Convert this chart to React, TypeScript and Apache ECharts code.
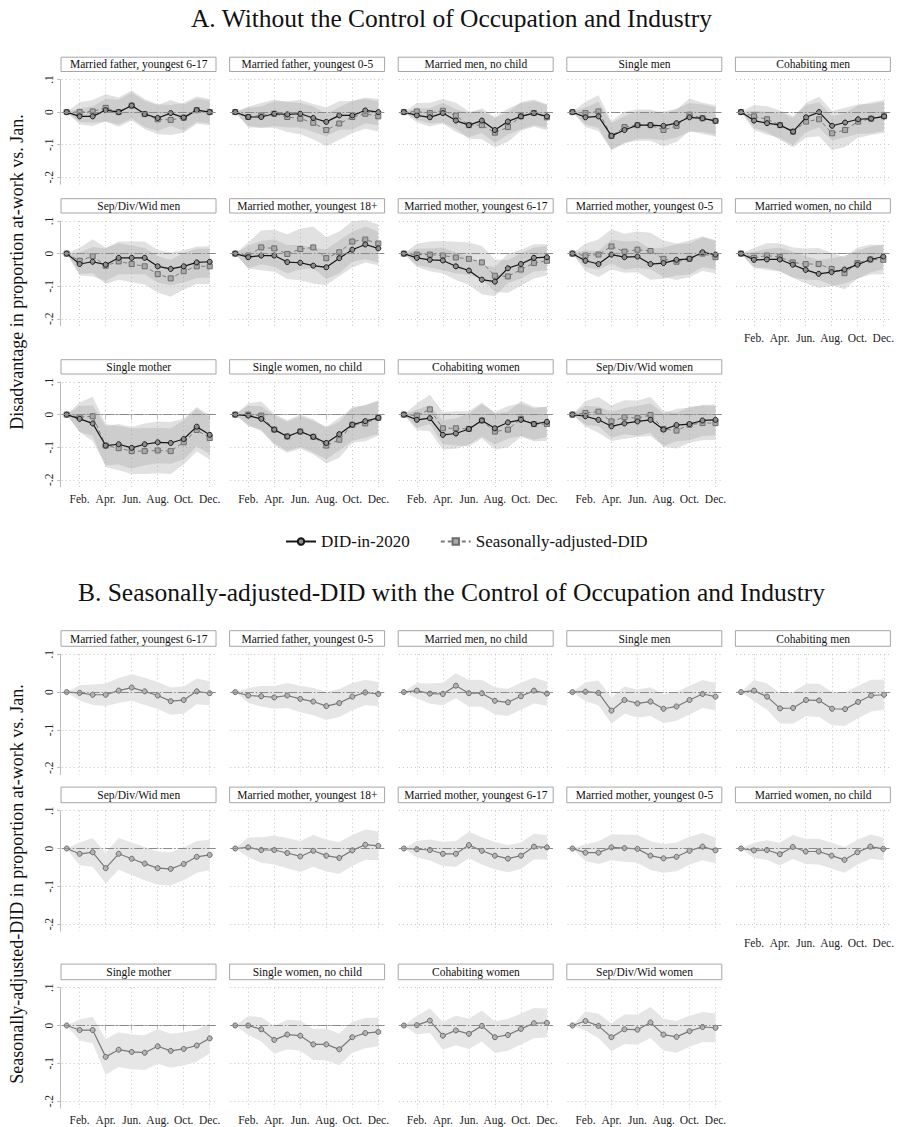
import React, { useEffect, useRef } from "react";
import * as echarts from "echarts";

// ---------- data ----------
const MONTHS = [1, 2, 3, 4, 5, 6, 7, 8, 9, 10, 11, 12];
const TICK_MONTHS = [2, 4, 6, 8, 10, 12];
const TICK_LABELS = ["Feb.", "Apr.", "Jun.", "Aug.", "Oct.", "Dec."];
const Y_TICKS = [-0.2, -0.1, 0, 0.1];
const Y_TICK_LABELS = ["-.2", "-.1", "0", ".1"];

const GROUPS = [
  "Married father, youngest 6-17",
  "Married father, youngest 0-5",
  "Married men, no child",
  "Single men",
  "Cohabiting men",
  "Sep/Div/Wid men",
  "Married mother, youngest 18+",
  "Married mother, youngest 6-17",
  "Married mother, youngest 0-5",
  "Married women, no child",
  "Single mother",
  "Single women, no child",
  "Cohabiting women",
  "Sep/Div/Wid women",
];

// Panel A: DID-in-2020 estimates (one row per group, Jan..Dec)
const DID_A = [
  [0, -0.013, -0.013, 0.006, 0, 0.02, -0.006, -0.018, -0.003, -0.017, 0.006, 0],
  [0, -0.015, -0.015, -0.005, -0.007, -0.005, -0.018, -0.03, -0.01, -0.01, 0.005, 0],
  [0, -0.01, -0.016, -0.003, -0.026, -0.04, -0.026, -0.055, -0.029, -0.013, -0.003, -0.013],
  [0, -0.016, -0.013, -0.073, -0.055, -0.04, -0.04, -0.042, -0.034, -0.016, -0.019, -0.027],
  [0, -0.026, -0.034, -0.04, -0.06, -0.016, 0, -0.042, -0.032, -0.022, -0.02, -0.013],
  [0, -0.032, -0.025, -0.034, -0.013, -0.013, -0.013, -0.039, -0.047, -0.039, -0.027, -0.025],
  [0, -0.011, -0.006, -0.006, -0.026, -0.028, -0.037, -0.042, -0.014, 0.012, 0.028, 0.016],
  [0, -0.013, -0.019, -0.021, -0.039, -0.052, -0.08, -0.086, -0.045, -0.032, -0.013, -0.011],
  [0, -0.022, -0.032, -0.003, -0.011, -0.009, -0.032, -0.029, -0.019, -0.016, 0.004, -0.003],
  [0, -0.019, -0.018, -0.018, -0.034, -0.05, -0.062, -0.057, -0.049, -0.034, -0.018, -0.009],
  [0, -0.013, -0.027, -0.095, -0.091, -0.102, -0.091, -0.085, -0.087, -0.075, -0.037, -0.062],
  [0, -0.003, -0.013, -0.046, -0.067, -0.052, -0.068, -0.087, -0.06, -0.031, -0.02, -0.01],
  [0, -0.016, -0.011, -0.062, -0.058, -0.044, -0.018, -0.042, -0.024, -0.016, -0.029, -0.022],
  [0, -0.005, -0.016, -0.036, -0.027, -0.021, -0.016, -0.046, -0.032, -0.029, -0.018, -0.016],
];

// Panel A: Seasonally-adjusted-DID estimates
const SA_A = [
  [0, 0, 0.002, 0.013, 0, 0.02, -0.006, -0.022, -0.024, -0.017, 0.006, 0],
  [0, -0.015, -0.01, -0.005, -0.015, -0.02, -0.033, -0.055, -0.035, -0.015, -0.005, -0.013],
  [0, 0.002, -0.003, 0.004, -0.011, -0.04, -0.04, -0.063, -0.046, -0.013, -0.003, -0.016],
  [0, -0.003, 0.002, -0.073, -0.046, -0.04, -0.04, -0.055, -0.042, -0.008, -0.019, -0.027],
  [0, -0.013, -0.022, -0.04, -0.06, -0.029, -0.022, -0.065, -0.055, -0.029, -0.02, -0.013],
  [0, -0.022, -0.008, -0.037, -0.024, -0.032, -0.039, -0.063, -0.076, -0.054, -0.039, -0.039],
  [0, -0.006, 0.019, 0.016, -0.001, 0.014, 0.019, -0.014, 0.004, 0.037, 0.043, 0.031],
  [0, -0.003, -0.003, -0.006, -0.012, -0.016, -0.027, -0.068, -0.07, -0.049, -0.029, -0.022],
  [0, -0.006, -0.003, 0.022, 0.006, 0.012, 0.008, -0.016, -0.025, -0.016, 0, -0.011],
  [0, -0.013, -0.006, -0.011, -0.027, -0.032, -0.032, -0.047, -0.06, -0.029, -0.018, -0.019],
  [0, -0.008, -0.005, -0.095, -0.103, -0.112, -0.112, -0.11, -0.112, -0.085, -0.047, -0.072],
  [0, 0, -0.003, -0.046, -0.067, -0.052, -0.068, -0.095, -0.077, -0.031, -0.027, -0.01],
  [0, -0.003, 0.016, -0.042, -0.042, -0.044, -0.018, -0.052, -0.046, -0.013, -0.029, -0.029],
  [0, 0.005, 0.009, -0.021, -0.008, -0.011, -0.001, -0.044, -0.049, -0.031, -0.026, -0.026],
];

// Panel A: half-width of the confidence band, DID-in-2020
const DID_A_CI = [
  [0, 0.025, 0.03, 0.035, 0.038, 0.04, 0.04, 0.04, 0.04, 0.04, 0.036, 0.034],
  [0, 0.028, 0.033, 0.038, 0.04, 0.042, 0.043, 0.044, 0.044, 0.043, 0.04, 0.04],
  [0, 0.022, 0.028, 0.032, 0.035, 0.037, 0.038, 0.04, 0.04, 0.04, 0.037, 0.035],
  [0, 0.03, 0.045, 0.04, 0.042, 0.042, 0.042, 0.044, 0.044, 0.044, 0.042, 0.042],
  [0, 0.03, 0.035, 0.04, 0.042, 0.045, 0.047, 0.045, 0.045, 0.045, 0.045, 0.045],
  [0, 0.035, 0.045, 0.05, 0.05, 0.05, 0.05, 0.05, 0.05, 0.05, 0.048, 0.048],
  [0, 0.035, 0.045, 0.05, 0.052, 0.054, 0.055, 0.055, 0.055, 0.055, 0.055, 0.052],
  [0, 0.028, 0.035, 0.04, 0.042, 0.044, 0.045, 0.045, 0.045, 0.044, 0.042, 0.04],
  [0, 0.032, 0.04, 0.046, 0.048, 0.048, 0.048, 0.048, 0.048, 0.048, 0.046, 0.045],
  [0, 0.025, 0.032, 0.037, 0.04, 0.042, 0.043, 0.043, 0.043, 0.043, 0.04, 0.038],
  [0, 0.04, 0.055, 0.06, 0.062, 0.064, 0.064, 0.064, 0.064, 0.063, 0.06, 0.06],
  [0, 0.03, 0.038, 0.043, 0.045, 0.047, 0.048, 0.05, 0.05, 0.05, 0.05, 0.05],
  [0, 0.032, 0.04, 0.045, 0.047, 0.048, 0.05, 0.05, 0.05, 0.05, 0.048, 0.047],
  [0, 0.032, 0.04, 0.045, 0.047, 0.048, 0.05, 0.05, 0.05, 0.05, 0.048, 0.047],
];

// Panel A: half-width of the confidence band, Seasonally-adjusted-DID
const SA_A_CI = [
  [0, 0.03, 0.035, 0.042, 0.045, 0.046, 0.046, 0.046, 0.046, 0.046, 0.042, 0.04],
  [0, 0.032, 0.038, 0.043, 0.046, 0.048, 0.05, 0.05, 0.05, 0.05, 0.046, 0.046],
  [0, 0.026, 0.032, 0.036, 0.04, 0.042, 0.043, 0.045, 0.045, 0.044, 0.042, 0.04],
  [0, 0.035, 0.05, 0.045, 0.047, 0.048, 0.048, 0.05, 0.05, 0.05, 0.048, 0.048],
  [0, 0.035, 0.04, 0.045, 0.048, 0.05, 0.052, 0.052, 0.052, 0.05, 0.05, 0.05],
  [0, 0.04, 0.052, 0.056, 0.056, 0.056, 0.056, 0.056, 0.056, 0.056, 0.054, 0.054],
  [0, 0.04, 0.052, 0.057, 0.06, 0.062, 0.064, 0.064, 0.064, 0.062, 0.06, 0.058],
  [0, 0.033, 0.04, 0.045, 0.048, 0.05, 0.05, 0.05, 0.05, 0.05, 0.047, 0.045],
  [0, 0.037, 0.046, 0.053, 0.055, 0.056, 0.056, 0.056, 0.056, 0.056, 0.053, 0.05],
  [0, 0.03, 0.038, 0.043, 0.046, 0.048, 0.049, 0.049, 0.049, 0.048, 0.046, 0.044],
  [0, 0.045, 0.06, 0.066, 0.068, 0.07, 0.07, 0.07, 0.07, 0.068, 0.066, 0.065],
  [0, 0.035, 0.043, 0.048, 0.05, 0.052, 0.054, 0.055, 0.055, 0.055, 0.055, 0.055],
  [0, 0.037, 0.045, 0.05, 0.052, 0.054, 0.055, 0.055, 0.055, 0.055, 0.053, 0.052],
  [0, 0.037, 0.045, 0.05, 0.052, 0.054, 0.055, 0.055, 0.055, 0.055, 0.053, 0.052],
];

// Panel B: Seasonally-adjusted-DID with occupation & industry controls
const SA_B = [
  [0, -0.002, -0.007, -0.007, 0.004, 0.012, 0.002, -0.009, -0.024, -0.021, 0.002, -0.003],
  [0, -0.009, -0.011, -0.014, -0.009, -0.018, -0.025, -0.037, -0.029, -0.012, -0.001, -0.005],
  [0, 0.004, -0.004, -0.005, 0.017, -0.003, -0.003, -0.023, -0.027, -0.011, 0.004, -0.004],
  [0, 0.001, -0.002, -0.049, -0.021, -0.03, -0.025, -0.044, -0.038, -0.021, -0.005, -0.012],
  [0, 0.004, -0.012, -0.043, -0.042, -0.021, -0.022, -0.044, -0.045, -0.026, -0.009, -0.007],
  [0, -0.014, -0.01, -0.052, -0.014, -0.027, -0.04, -0.052, -0.054, -0.041, -0.022, -0.017],
  [0, 0.003, -0.004, -0.004, -0.012, -0.021, -0.006, -0.019, -0.025, -0.005, 0.01, 0.007],
  [0, -0.002, -0.004, -0.014, -0.014, 0.009, -0.006, -0.019, -0.027, -0.019, 0.005, 0.003],
  [0, -0.011, -0.011, 0.003, 0.001, -0.001, -0.019, -0.026, -0.022, -0.006, 0.005, -0.005],
  [0, -0.005, -0.004, -0.015, 0.004, -0.008, -0.008, -0.019, -0.03, -0.01, 0.005, -0.001],
  [0, -0.012, -0.012, -0.083, -0.064, -0.07, -0.072, -0.055, -0.067, -0.062, -0.053, -0.034],
  [0, 0, -0.01, -0.038, -0.024, -0.027, -0.05, -0.05, -0.063, -0.031, -0.02, -0.017],
  [0, 0.001, 0.013, -0.027, -0.013, -0.022, -0.001, -0.031, -0.025, -0.009, 0.006, 0.007],
  [0, 0.012, -0.001, -0.031, -0.01, -0.011, 0.008, -0.024, -0.03, -0.015, -0.004, -0.006],
];

// Panel B: half-width of the confidence band
const SA_B_CI = [
  [0, 0.02, 0.027, 0.03, 0.033, 0.035, 0.036, 0.036, 0.036, 0.036, 0.034, 0.032],
  [0, 0.02, 0.027, 0.03, 0.033, 0.035, 0.036, 0.037, 0.037, 0.036, 0.034, 0.032],
  [0, 0.02, 0.027, 0.03, 0.033, 0.035, 0.036, 0.036, 0.036, 0.036, 0.034, 0.032],
  [0, 0.025, 0.033, 0.035, 0.036, 0.037, 0.038, 0.038, 0.038, 0.038, 0.037, 0.036],
  [0, 0.028, 0.035, 0.04, 0.042, 0.043, 0.044, 0.044, 0.044, 0.043, 0.042, 0.04],
  [0, 0.03, 0.038, 0.04, 0.042, 0.043, 0.044, 0.044, 0.044, 0.043, 0.042, 0.04],
  [0, 0.026, 0.034, 0.038, 0.04, 0.041, 0.042, 0.042, 0.042, 0.041, 0.04, 0.038],
  [0, 0.022, 0.028, 0.032, 0.034, 0.035, 0.036, 0.036, 0.036, 0.035, 0.034, 0.032],
  [0, 0.022, 0.03, 0.034, 0.036, 0.037, 0.038, 0.038, 0.038, 0.037, 0.036, 0.034],
  [0, 0.02, 0.026, 0.03, 0.032, 0.033, 0.034, 0.034, 0.034, 0.033, 0.032, 0.03],
  [0, 0.028, 0.035, 0.047, 0.046, 0.046, 0.046, 0.046, 0.045, 0.044, 0.042, 0.04],
  [0, 0.025, 0.032, 0.037, 0.039, 0.04, 0.041, 0.042, 0.042, 0.041, 0.04, 0.038],
  [0, 0.025, 0.032, 0.037, 0.039, 0.04, 0.041, 0.042, 0.042, 0.041, 0.04, 0.038],
  [0, 0.025, 0.032, 0.037, 0.039, 0.04, 0.041, 0.042, 0.042, 0.041, 0.04, 0.038],
];

const TITLE_A = "A. Without the Control of Occupation and Industry";
const TITLE_B = "B. Seasonally-adjusted-DID with the Control of Occupation and Industry";
const YTITLE_A = "Disadvantage in proportion at-work vs. Jan.";
const YTITLE_B = "Seasonally-adjusted-DID in proportion at-work vs. Jan.";
const LEGEND_DID = "DID-in-2020";
const LEGEND_SA = "Seasonally-adjusted-DID";

// ---------- layout ----------
const W = 897;
const H = 1127;
const SERIF = "Liberation Serif";
const COL_X0 = 61.7;
const COL_STEP = 168.6;
const PLOT_W = 154;
const X_MIN = 0.62;
const X_MAX = 12.46;
const EXT = 7; // px below -.2 down to the x axis
const SECTIONS = [
  { tops: [79.5, 221, 382], unit: 32.6, headerH: 14.3 },
  { tops: [654.3, 810.7, 987.7], unit: 37.8, headerH: 15.6 },
];

const BAND_A = "rgba(168,168,168,0.34)";
const BAND_B = "#e6e6e6";
const GRID_COLOR = "#c4c4c4";
const AXIS_COLOR = "#bdbdbd";

function buildOption() {
  const grid: any[] = [];
  const xAxis: any[] = [];
  const yAxis: any[] = [];
  const series: any[] = [];
  const graphic: any[] = [];

  const yFmt = (v: number) => {
    const k = Y_TICKS.findIndex((t) => Math.abs(t - v) < 1e-6);
    return k >= 0 ? Y_TICK_LABELS[k] : "";
  };
  const xFmt = (v: number) => {
    const k = TICK_MONTHS.findIndex((t) => Math.abs(t - v) < 1e-6);
    return k >= 0 ? TICK_LABELS[k] : "";
  };

  const zeroLine = {
    silent: true,
    symbol: "none",
    label: { show: false },
    lineStyle: { color: "#8a8a8a", width: 1, type: [9, 2, 1.5, 2] },
    data: [{ yAxis: 0 }],
  };

  SECTIONS.forEach((sec, s) => {
    GROUPS.forEach((name, i) => {
      const row = Math.floor(i / 5);
      const col = i % 5;
      const gi = s * GROUPS.length + i;
      const top = sec.tops[row];
      const left = COL_X0 + COL_STEP * col;
      const bottomPanel = i >= 9;
      const height = sec.unit * 3 + EXT;
      const yMin = -0.2 - EXT / (sec.unit * 10);

      grid.push({ left, top, width: PLOT_W, height, containLabel: false });
      xAxis.push({
        gridIndex: gi,
        type: "value",
        min: X_MIN,
        max: X_MAX,
        axisLine: { show: bottomPanel, lineStyle: { color: AXIS_COLOR, width: 1 } },
        axisTick: {
          show: bottomPanel,
          customValues: TICK_MONTHS,
          length: 5,
          lineStyle: { color: AXIS_COLOR },
        },
        axisLabel: {
          show: bottomPanel,
          customValues: TICK_MONTHS,
          formatter: xFmt,
          margin: 6,
          fontFamily: SERIF,
          fontSize: 11.5,
          color: "#222",
        },
        splitLine: { show: true, lineStyle: { color: GRID_COLOR, type: [1, 3], width: 1 } },
      });
      yAxis.push({
        gridIndex: gi,
        type: "value",
        min: yMin,
        max: 0.1,
        offset: 1.5,
        axisLine: { show: col === 0, lineStyle: { color: AXIS_COLOR, width: 1 } },
        axisTick: {
          show: col === 0,
          customValues: Y_TICKS,
          length: 3,
          lineStyle: { color: AXIS_COLOR },
        },
        axisLabel: {
          show: col === 0,
          customValues: Y_TICKS,
          formatter: yFmt,
          rotate: 90,
          margin: 5,
          fontFamily: SERIF,
          fontSize: 11.5,
          color: "#222",
        },
        splitLine: { show: true, lineStyle: { color: GRID_COLOR, type: [1, 3], width: 1 } },
      });

      // header box
      graphic.push({
        type: "rect",
        shape: { x: left - 0.7, y: top - 8 - sec.headerH, width: PLOT_W + 1, height: sec.headerH },
        style: { fill: "#fff", stroke: "#a6a6a6", lineWidth: 1 },
        silent: true,
      });
      graphic.push({
        type: "text",
        x: left + PLOT_W / 2,
        y: top - 8 - sec.headerH / 2,
        style: {
          text: name,
          fill: "#111",
          fontFamily: SERIF,
          fontSize: 11.5,
          align: "center",
          verticalAlign: "middle",
        },
        silent: true,
      });

      // confidence band drawn as one polygon through the axis scales
      const band = (vals: number[], hw: number[], key: string, color: string) => {
        const rows = MONTHS.map((m, k) => [m, vals[k] - hw[k], vals[k] + hw[k]]);
        series.push({
          type: "custom",
          name: `${key}-${gi}`,
          xAxisIndex: gi,
          yAxisIndex: gi,
          data: rows,
          encode: { x: 0, y: [1, 2] },
          silent: true,
          z: 1,
          renderItem: (params: any, api: any) => {
            if (params.dataIndex !== 0) return null;
            const upper = rows.map((r) => api.coord([r[0], r[2]]));
            const lower = rows.map((r) => api.coord([r[0], r[1]])).reverse();
            return {
              type: "polygon",
              shape: { points: upper.concat(lower) },
              style: { fill: color, stroke: "none" },
            };
          },
        });
      };

      if (s === 0) {
        band(DID_A[i], DID_A_CI[i], "did", BAND_A);
        band(SA_A[i], SA_A_CI[i], "sa", BAND_A);
        series.push({
          type: "line",
          name: LEGEND_SA,
          xAxisIndex: gi,
          yAxisIndex: gi,
          data: MONTHS.map((m, k) => [m, SA_A[i][k]]),
          symbol: "rect",
          symbolSize: 5,
          lineStyle: { color: "#7c7c7c", width: 1, type: [4, 3] },
          itemStyle: { color: "#a9a9a9", borderColor: "#6c6c6c", borderWidth: 1 },
          markLine: zeroLine,
          z: 3,
        });
        series.push({
          type: "line",
          name: LEGEND_DID,
          xAxisIndex: gi,
          yAxisIndex: gi,
          data: MONTHS.map((m, k) => [m, DID_A[i][k]]),
          symbol: "circle",
          symbolSize: 5,
          lineStyle: { color: "#161616", width: 1.2 },
          itemStyle: { color: "#8e8e8e", borderColor: "#161616", borderWidth: 1 },
          z: 4,
        });
      } else {
        band(SA_B[i], SA_B_CI[i], "sab", BAND_B);
        series.push({
          type: "line",
          name: `B-${gi}`,
          xAxisIndex: gi,
          yAxisIndex: gi,
          data: MONTHS.map((m, k) => [m, SA_B[i][k]]),
          symbol: "circle",
          symbolSize: 5,
          lineStyle: { color: "#7a7a7a", width: 1.2 },
          itemStyle: { color: "#b4b4b4", borderColor: "#6a6a6a", borderWidth: 1 },
          markLine: zeroLine,
          z: 3,
        });
      }
    });
  });

  const textStyle = (text: string, size: number) => ({
    text,
    fill: "#111",
    fontFamily: SERIF,
    fontSize: size,
    align: "center",
    verticalAlign: "middle",
  });

  graphic.push({ type: "text", x: 451.5, y: 18, style: textStyle(TITLE_A, 25.5) });
  graphic.push({ type: "text", x: 451.5, y: 592, style: textStyle(TITLE_B, 25.5) });
  graphic.push({ type: "text", x: 17, y: 272, rotation: Math.PI / 2, style: textStyle(YTITLE_A, 18) });
  graphic.push({ type: "text", x: 17, y: 884, rotation: Math.PI / 2, style: textStyle(YTITLE_B, 18) });

  return {
    animation: false,
    backgroundColor: "#ffffff",
    textStyle: { fontFamily: SERIF },
    legend: {
      data: [LEGEND_DID, LEGEND_SA],
      left: 280,
      top: 528,
      itemWidth: 30,
      itemHeight: 8,
      itemGap: 30,
      selectedMode: false,
      textStyle: { fontFamily: SERIF, fontSize: 17, color: "#111" },
    },
    grid,
    xAxis,
    yAxis,
    series,
    graphic,
  };
}

export default function App() {
  const ref = useRef<HTMLDivElement>(null);
  useEffect(() => {
    if (!ref.current) return;
    const chart = echarts.init(ref.current, undefined, { renderer: "svg" });
    chart.setOption(buildOption() as any);
    return () => chart.dispose();
  }, []);
  return (
    <div
      ref={ref}
      style={{ position: "absolute", left: 0, top: 0, width: W, height: H, background: "#fff" }}
    />
  );
}
